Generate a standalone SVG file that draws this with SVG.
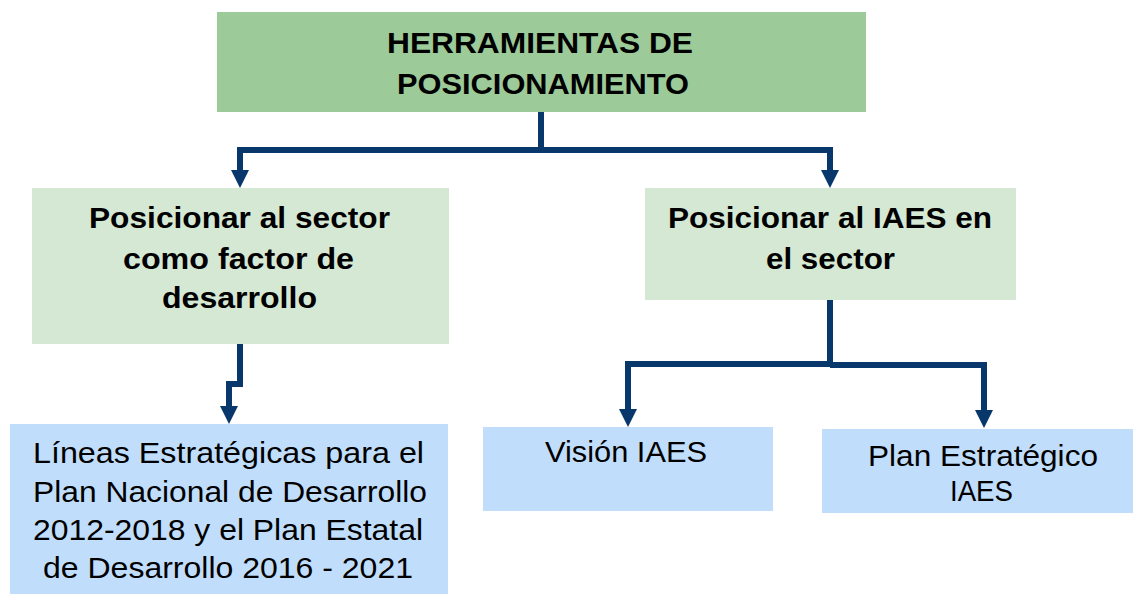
<svg xmlns="http://www.w3.org/2000/svg" width="1133" height="594" viewBox="0 0 1133 594">
<defs>
<style>
.top{fill:#9ccb99}
.mid{fill:#d4e8d4}
.leaf{fill:#c0defb}
.b{font-family:"Liberation Sans",Arial,sans-serif;font-weight:bold;font-size:30px;fill:#000;text-anchor:middle}
.r{font-family:"Liberation Sans",Arial,sans-serif;font-size:29px;fill:#000;text-anchor:middle}
.c{fill:none;stroke:#08386b;stroke-width:6;stroke-linejoin:miter}
</style>
<marker id="ah" markerUnits="userSpaceOnUse" markerWidth="18" markerHeight="18" refX="0" refY="9" orient="auto" viewBox="0 0 18 18">
<path d="M0,0 L18,9 L0,18 z" fill="#08386b"/>
</marker>
</defs>
<rect width="1133" height="594" fill="#ffffff"/>
<g id="connectors">
<path class="c" d="M541,112 V150"/>
<path class="c" d="M541,150 H240 V170" marker-end="url(#ah)"/>
<path class="c" d="M541,150 H830 V170" marker-end="url(#ah)"/>
<path class="c" d="M240,344 V384 H229 V406" marker-end="url(#ah)"/>
<path class="c" d="M830,300 V364"/>
<path class="c" d="M830,364 H628 V409" marker-end="url(#ah)"/>
<path class="c" d="M830,365 H984 V410" marker-end="url(#ah)"/>
</g>
<g id="n-herramientas">
<rect class="top" x="217" y="12" width="649" height="100"/>
<text class="b" x="540" y="53" textLength="306" lengthAdjust="spacingAndGlyphs">HERRAMIENTAS DE</text>
<text class="b" x="543" y="94" textLength="292" lengthAdjust="spacingAndGlyphs">POSICIONAMIENTO</text>
</g>
<g id="n-sector">
<rect class="mid" x="32" y="188" width="417" height="156"/>
<text class="b" x="239.5" y="228" textLength="301" lengthAdjust="spacingAndGlyphs">Posicionar al sector</text>
<text class="b" x="238.5" y="269" textLength="231" lengthAdjust="spacingAndGlyphs">como factor de</text>
<text class="b" x="239.5" y="308" textLength="155" lengthAdjust="spacingAndGlyphs">desarrollo</text>
</g>
<g id="n-iaes">
<rect class="mid" x="645" y="188" width="371" height="112"/>
<text class="b" x="830" y="228" textLength="324" lengthAdjust="spacingAndGlyphs">Posicionar al IAES en</text>
<text class="b" x="830.5" y="269" textLength="129" lengthAdjust="spacingAndGlyphs">el sector</text>
</g>
<g id="n-lineas">
<rect class="leaf" x="10" y="424" width="438" height="170"/>
<text class="r" x="228.5" y="463" textLength="391" lengthAdjust="spacingAndGlyphs">Líneas Estratégicas para el</text>
<text class="r" x="230" y="502" textLength="394" lengthAdjust="spacingAndGlyphs">Plan Nacional de Desarrollo</text>
<text class="r" x="228" y="540" textLength="390" lengthAdjust="spacingAndGlyphs">2012-2018 y el Plan Estatal</text>
<text class="r" x="228" y="578" textLength="370" lengthAdjust="spacingAndGlyphs">de Desarrollo 2016 - 2021</text>
</g>
<g id="n-vision">
<rect class="leaf" x="483" y="427" width="290" height="84"/>
<text class="r" x="626" y="462" textLength="162" lengthAdjust="spacingAndGlyphs">Visión IAES</text>
</g>
<g id="n-plan">
<rect class="leaf" x="822" y="429" width="311" height="84"/>
<text class="r" x="983" y="466" textLength="230" lengthAdjust="spacingAndGlyphs">Plan Estratégico</text>
<text class="r" x="981.5" y="501" textLength="63" lengthAdjust="spacingAndGlyphs">IAES</text>
</g>
</svg>
